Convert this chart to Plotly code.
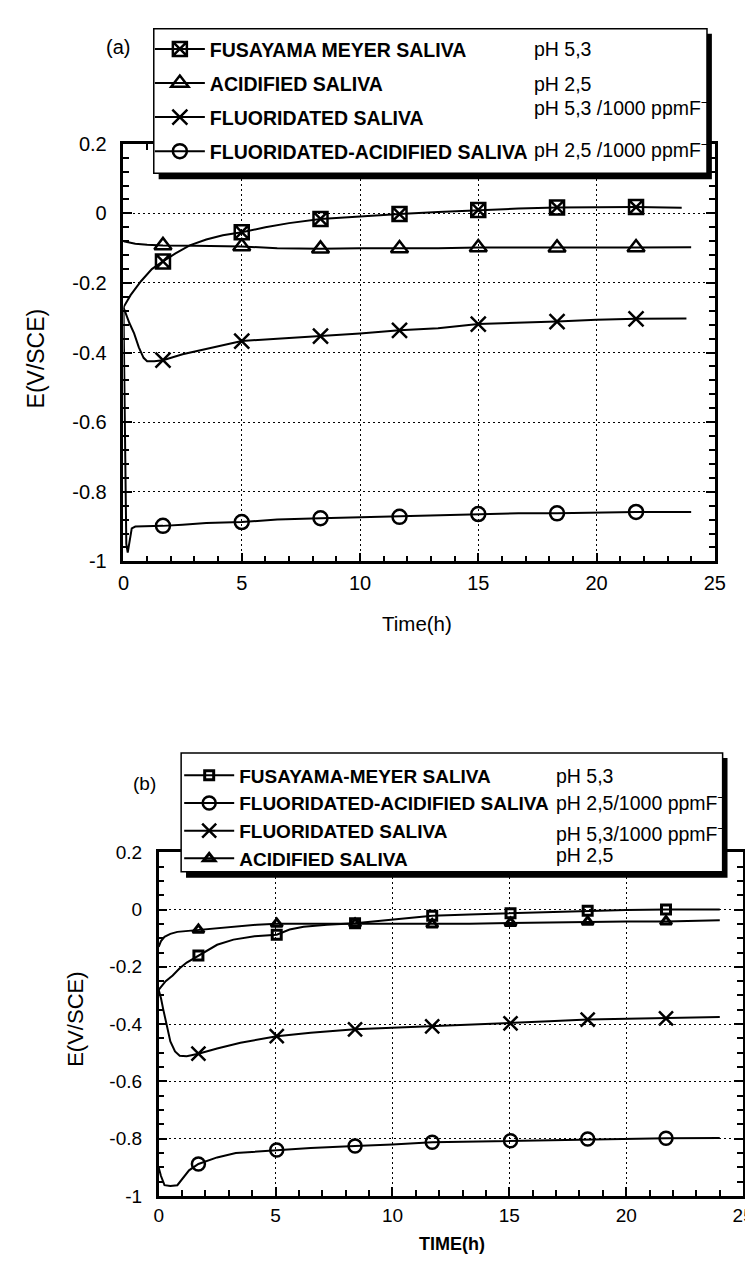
import plotly.graph_objects as go

W, H = 753, 1261

# ---------------- panel (a) data ----------------
a_fm_t = [0, 0.3, 0.74, 1.2, 2.2, 2.8, 3.5, 4.2, 6.0, 7.0, 10.0, 13.3, 16.7, 20.0, 23.6]
a_fm_E = [-0.27, -0.235, -0.195, -0.16, -0.115, -0.092, -0.075, -0.063, -0.04, -0.028, -0.008, 0.004, 0.014, 0.018, 0.016]

a_ac_t = [0, 0.5, 1.0, 3.0, 6.5, 10.0, 13.3, 24.0]
a_ac_E = [-0.08, -0.087, -0.09, -0.093, -0.1, -0.1, -0.1, -0.097]

a_fl_t = [0, 0.1, 0.25, 0.45, 0.65, 0.85, 1.0, 1.3, 2.5, 3.5, 6.5, 10.0, 13.3, 16.7, 20.0, 23.8]
a_fl_E = [-0.27, -0.29, -0.315, -0.345, -0.385, -0.415, -0.425, -0.425, -0.405, -0.39, -0.36, -0.345, -0.33, -0.315, -0.306, -0.302]

a_fa_t = [0, 0.04, 0.08, 0.12, 0.18, 0.25, 0.35, 0.5, 1.0, 2.5, 3.5, 6.5, 10.0, 13.3, 16.7, 20.0, 24.0]
a_fa_E = [-0.27, -0.5, -0.8, -0.95, -0.975, -0.94, -0.905, -0.9, -0.9, -0.895, -0.89, -0.88, -0.873, -0.868, -0.862, -0.86, -0.858]

a_mk_t = [1.67, 5.0, 8.33, 11.67, 15.0, 18.33, 21.67]
a_fm_mk = [-0.138, -0.054, -0.016, -0.002, 0.01, 0.017, 0.018]
a_ac_mk = [-0.092, -0.095, -0.102, -0.101, -0.098, -0.099, -0.098]
a_fl_mk = [-0.422, -0.367, -0.353, -0.336, -0.318, -0.311, -0.303]
a_fa_mk = [-0.898, -0.887, -0.876, -0.872, -0.864, -0.862, -0.858]

a_names = ["FUSAYAMA MEYER SALIVA", "ACIDIFIED SALIVA", "FLUORIDATED SALIVA", "FLUORIDATED-ACIDIFIED SALIVA"]
a_ph = ["pH 5,3", "pH 2,5", "pH 5,3 /1000 ppmF<sup>−</sup>", "pH 2,5 /1000 ppmF<sup>−</sup>"]

# ---------------- panel (b) data ----------------
b_fm_t = [0, 0.1, 0.3, 0.6, 0.9, 1.2, 2.5, 3.2, 4.1, 5.6, 6.2, 7.2, 10.0, 13.3, 16.7, 20.0, 24.0]
b_fm_E = [-0.28, -0.27, -0.25, -0.23, -0.205, -0.185, -0.123, -0.105, -0.093, -0.07, -0.06, -0.053, -0.035, -0.017, -0.008, -0.002, 0.0]

b_fa_t = [0, 0.1, 0.25, 0.5, 0.8, 1.05, 1.3, 2.5, 3.3, 4.2, 6.5, 10.0, 13.3, 16.7, 20.0, 24.0]
b_fa_E = [-0.9, -0.93, -0.962, -0.965, -0.962, -0.935, -0.91, -0.865, -0.85, -0.845, -0.832, -0.82, -0.81, -0.804, -0.8, -0.797]

b_fl_t = [0, 0.1, 0.2, 0.35, 0.5, 0.7, 0.9, 1.2, 2.5, 3.5, 6.5, 10.0, 13.3, 16.7, 20.0, 24.0]
b_fl_E = [-0.28, -0.31, -0.35, -0.41, -0.46, -0.495, -0.51, -0.512, -0.485, -0.465, -0.43, -0.413, -0.403, -0.39, -0.382, -0.375]

b_ac_t = [0, 0.1, 0.25, 0.5, 0.8, 1.2, 2.5, 3.2, 4.2, 6.5, 10.0, 13.3, 16.7, 20.0, 24.0]
b_ac_E = [-0.13, -0.11, -0.095, -0.085, -0.078, -0.075, -0.065, -0.06, -0.053, -0.05, -0.05, -0.05, -0.045, -0.042, -0.037]

b_mk_t = [1.7, 5.05, 8.4, 11.7, 15.05, 18.35, 21.7]
b_fm_mk = [-0.16, -0.088, -0.048, -0.022, -0.013, -0.004, 0.0]
b_fa_mk = [-0.888, -0.839, -0.825, -0.812, -0.807, -0.801, -0.798]
b_fl_mk = [-0.503, -0.442, -0.418, -0.408, -0.397, -0.384, -0.38]
b_ac_mk = [-0.071, -0.05, -0.05, -0.052, -0.047, -0.043, -0.042]

b_names = ["FUSAYAMA-MEYER SALIVA", "FLUORIDATED-ACIDIFIED SALIVA", "FLUORIDATED SALIVA", "ACIDIFIED SALIVA"]
b_ph = ["pH 5,3", "pH 2,5/1000 ppmF<sup>−</sup>", "pH 5,3/1000 ppmF<sup>−</sup>", "pH 2,5"]

# ---------------- ticks ----------------
y_tickvals = [0.2, 0, -0.2, -0.4, -0.6, -0.8, -1]
y_ticktext = ["0.2", "0", "-0.2", "-0.4", "-0.6", "-0.8", "-1"]
x_tickvals = [0, 5, 10, 15, 20, 25]
x_ticktext = ["0", "5", "10", "15", "20", "25"]

FONT = "Liberation Sans, Arial, sans-serif"


def px_x(p):
    return p / W


def px_y(p):
    return 1 - p / H


fig = go.Figure()


def add_series(t, E, mt, mE, name, symbol, msize, mlw, xa, ya, legend, group):
    # curve samples and marker samples merged into one trace; only the marker samples show a symbol
    pts = sorted([(tt, ee, False) for tt, ee in zip(t, E)] + [(tt, ee, True) for tt, ee in zip(mt, mE)],
                 key=lambda p: p[0])
    xs = [p[0] for p in pts]
    ys = [p[1] for p in pts]
    sel = [i for i, p in enumerate(pts) if p[2]]
    fig.add_trace(go.Scatter(
        x=xs, y=ys, mode="lines+markers", name=name, legendgroup=group,
        line=dict(color="black", width=2),
        marker=dict(symbol=symbol, size=msize, color="black", line=dict(color="black", width=mlw)),
        selectedpoints=sel, selected=dict(marker=dict(opacity=1)),
        unselected=dict(marker=dict(opacity=0)),
        xaxis=xa, yaxis=ya, legend=legend, hoverinfo="skip"))


# panel (a)
add_series(a_fm_t, a_fm_E, a_mk_t, a_fm_mk, a_names[0], "square-x-open", 14, 2.5, "x", "y", "legend", "a1")
add_series(a_ac_t, a_ac_E, a_mk_t, a_ac_mk, a_names[1], "triangle-up-open", 15, 2.5, "x", "y", "legend", "a2")
add_series(a_fl_t, a_fl_E, a_mk_t, a_fl_mk, a_names[2], "x-thin-open", 15, 2.5, "x", "y", "legend", "a3")
add_series(a_fa_t, a_fa_E, a_mk_t, a_fa_mk, a_names[3], "circle-open", 14, 2.5, "x", "y", "legend", "a4")

# panel (b)
add_series(b_fm_t, b_fm_E, b_mk_t, b_fm_mk, b_names[0], "square-open", 9, 3, "x2", "y2", "legend2", "b1")
add_series(b_fa_t, b_fa_E, b_mk_t, b_fa_mk, b_names[1], "circle-open", 13, 2.5, "x2", "y2", "legend2", "b2")
add_series(b_fl_t, b_fl_E, b_mk_t, b_fl_mk, b_names[2], "x-thin-open", 14, 2.5, "x2", "y2", "legend2", "b3")
add_series(b_ac_t, b_ac_E, b_mk_t, b_ac_mk, b_names[3], "triangle-up-open", 10, 3, "x2", "y2", "legend2", "b4")


def axis_common(size, minor_dt, standoff):
    return dict(showline=True, linewidth=2.5, linecolor="black", mirror="ticks",
                ticks="inside", ticklen=9, tickwidth=2, tickcolor="black",
                showgrid=True, gridcolor="black", gridwidth=1.3, griddash="2px,3px",
                zeroline=False, tickfont=dict(family=FONT, size=size, color="black"),
                minor=dict(dtick=minor_dt, ticks="inside", ticklen=6, tickwidth=1.5,
                           tickcolor="black", showgrid=False),
                ticklabelstandoff=standoff)


# panel (a) axes: x 112..717 px, y 127..552 px
xa = axis_common(20, 1, 2)
xa.update(domain=[px_x(112), px_x(717)], range=[0, 25], anchor="y",
          tickmode="array", tickvals=x_tickvals, ticktext=x_ticktext)
ya = axis_common(20, 0.04, 10)
ya.update(domain=[px_y(552), px_y(127)], range=[-1, 0.2], anchor="x",
          tickmode="array", tickvals=y_tickvals, ticktext=y_ticktext)

# panel (b) axes: x 148..746 px, y 848..1198 px
xb = axis_common(19, 1, 0)
xb.update(domain=[px_x(148), px_x(746)], range=[0, 25], anchor="y2",
          tickmode="array", tickvals=x_tickvals, ticktext=x_ticktext)
yb = axis_common(19, 0.05, 10)
yb.update(domain=[px_y(1198), px_y(848)], range=[-1, 0.2], anchor="x2",
          tickmode="array", tickvals=y_tickvals, ticktext=y_ticktext)

shapes = []


def legend_box(x0, y0, x1, y1, sh):
    shapes.append(dict(type="rect", xref="paper", yref="paper", layer="above",
                       x0=px_x(x0 + sh), x1=px_x(x1 + sh), y0=px_y(y1 + sh + 1), y1=px_y(y0 + sh),
                       fillcolor="black", line=dict(width=0)))
    shapes.append(dict(type="rect", xref="paper", yref="paper", layer="above",
                       x0=px_x(x0), x1=px_x(x1), y0=px_y(y1), y1=px_y(y0),
                       fillcolor="white", line=dict(color="black", width=1.5)))


legend_box(143, 10, 709, 157, 5)
legend_box(171, 747, 725, 868, 5)

annotations = []


def text(x, y, s, size, xanchor="left", angle=0, weight="normal"):
    annotations.append(dict(xref="paper", yref="paper", x=px_x(x), y=px_y(y), text=s,
                            showarrow=False, xanchor=xanchor, yanchor="middle", textangle=angle,
                            font=dict(family=FONT, size=size, color="black", weight=weight)))


a_ph_y = [31, 66, 90, 132]
for s, yy in zip(a_ph, a_ph_y):
    text(530, yy, s, 19.5)
b_ph_y = [770, 797, 828, 851]
for s, yy in zip(b_ph, b_ph_y):
    text(552, yy, s, 19.5)

text(106, 29, "(a)", 20, xanchor="center")
text(134, 778, "(b)", 19, xanchor="center")
text(23, 345, "E(V/SCE)", 23, xanchor="center", angle=-90)
text(63, 1018, "E(V/SCE)", 22, xanchor="center", angle=-90)
text(412, 615, "Time(h)", 20.5, xanchor="center")
text(448, 1247, "TIME(h)", 18, xanchor="center", weight="bold")

fig.update_layout(
    width=W, height=H, margin=dict(l=0, r=0, t=0, b=0),
    paper_bgcolor="white", plot_bgcolor="white",
    xaxis=xa, yaxis=ya, xaxis2=xb, yaxis2=yb,
    shapes=shapes, annotations=annotations,
    legend=dict(x=px_x(139), y=px_y(11), xanchor="left", yanchor="top",
                bgcolor="rgba(0,0,0,0)", borderwidth=0, itemwidth=50,
                font=dict(family=FONT, size=19.5, color="black", weight="bold"),
                tracegroupgap=5.7),
    legend2=dict(x=px_x(169), y=px_y(750.5), xanchor="left", yanchor="top",
                 bgcolor="rgba(0,0,0,0)", borderwidth=0, itemwidth=50,
                 font=dict(family=FONT, size=19, color="black", weight="bold"),
                 tracegroupgap=0),
    showlegend=True,
)

fig.write_html("out.html")
